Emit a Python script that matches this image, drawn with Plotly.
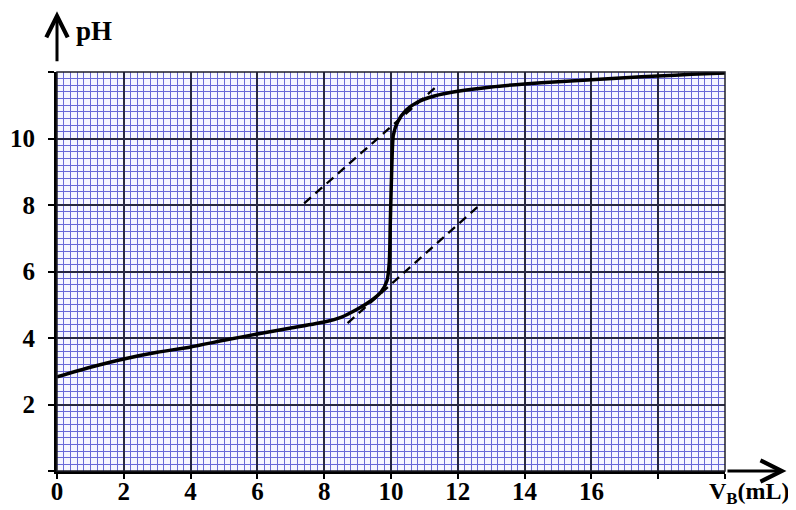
import plotly.graph_objects as go

# Titration curve data (V_B in mL, pH)
vb = [0, 1, 2, 3, 4, 5, 6, 7, 8, 8.5, 9, 9.4, 9.7, 9.88, 9.95, 9.98, 10.02, 10.07,
      10.2, 10.45, 10.8, 11.3, 12, 13, 14, 15, 16, 17, 18, 19, 20]
ph = [2.83, 3.12, 3.37, 3.57, 3.73, 3.93, 4.12, 4.3, 4.48, 4.62, 4.87, 5.12, 5.38,
      5.72, 6.3, 7.5, 9.0, 10.1, 10.5, 10.85, 11.1, 11.28, 11.42, 11.55, 11.64,
      11.71, 11.77, 11.83, 11.88, 11.93, 11.97]

# Tangent lines (dashed)
tan_up_x = [7.4, 11.35]
tan_up_y = [8.05, 11.55]
tan_lo_x = [8.7, 12.6]
tan_lo_y = [4.45, 7.95]

x_tickvals = [0, 2, 4, 6, 8, 10, 12, 14, 16, 18, 20]
x_ticktext = ["0", "2", "4", "6", "8", "10", "12", "14", "16", "", ""]
y_tickvals = [0, 2, 4, 6, 8, 10, 12]
y_ticktext = ["", "2", "4", "6", "8", "10", ""]

FONT = "Liberation Serif"
MINOR = "rgb(105,105,215)"
MAJOR = "rgb(40,40,65)"


def bold(labels):
    return [f"<b>{t}</b>" if t else "" for t in labels]


fig = go.Figure()
for tx, ty in ((tan_up_x, tan_up_y), (tan_lo_x, tan_lo_y)):
    fig.add_trace(go.Scatter(x=tx, y=ty, mode="lines",
                             line=dict(color="black", width=2.3, dash="9px,6px"),
                             hoverinfo="skip", showlegend=False))
fig.add_trace(go.Scatter(x=vb, y=ph, mode="lines",
                         line=dict(color="black", width=3.5, shape="spline", smoothing=0.6),
                         showlegend=False))

axis_common = dict(
    showgrid=True, gridcolor=MAJOR, gridwidth=1.6,
    zeroline=False, showline=True, linecolor="black", linewidth=3,
    ticks="outside", tickwidth=2, tickcolor="black",
    tickfont=dict(family=FONT, size=25, color="black"),
    minor=dict(dtick=0.2, showgrid=True, gridcolor=MINOR, gridwidth=1.2, ticks=""),
    automargin=False,
)

fig.update_layout(
    width=788, height=502,
    margin=dict(l=49, r=71, t=64, b=39),
    paper_bgcolor="white", plot_bgcolor="rgb(246,246,255)",
    xaxis=dict(range=[0, 20], tickvals=x_tickvals, ticktext=bold(x_ticktext),
               ticklen=5, ticklabelstandoff=-9, **axis_common),
    yaxis=dict(range=[0, 12], tickvals=y_tickvals, ticktext=bold(y_ticktext),
               ticklen=6, ticklabelstandoff=8, **axis_common),
)

# border on top/right
fig.add_shape(type="rect", xref="paper", yref="paper", x0=0, y0=0, x1=1, y1=1,
              line=dict(color="rgb(30,30,40)", width=1.5), layer="above")

# axis arrows
fig.add_annotation(xref="paper", yref="paper", x=0, y=1.152, ax=0, ay=60,
                   showarrow=True, arrowhead=5, arrowsize=1.4, arrowwidth=3,
                   arrowcolor="black", text=" ")
fig.add_annotation(xref="paper", yref="paper", x=1.092, y=0, ax=-62, ay=0,
                   showarrow=True, arrowhead=5, arrowsize=1.4, arrowwidth=3,
                   arrowcolor="black", text=" ")

# axis titles
fig.add_annotation(xref="paper", yref="paper", x=0.026, y=1.103, xanchor="left",
                   yanchor="middle", showarrow=False, text="<b>pH</b>",
                   font=dict(family=FONT, size=27, color="black"))
fig.add_annotation(xref="paper", yref="paper", x=1.1, y=-0.055, xanchor="right",
                   yanchor="middle", showarrow=False, text="<b>V<sub>B</sub>(mL)</b>",
                   font=dict(family=FONT, size=24, color="black"))

fig.write_html("out.html")
